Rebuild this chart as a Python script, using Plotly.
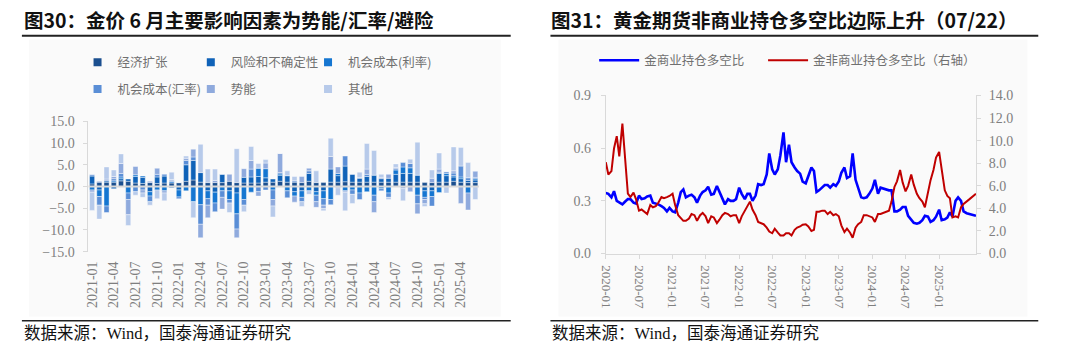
import plotly.graph_objects as go
import pandas as pd

# ---------------- Left chart data (monthly contributions) ----------------
months = [f"{y}-{m:02d}" for y in range(2021, 2026) for m in range(1, 13)][:54]
tick_months = months[::3]

econ = [0.6,1.0,1.0,1.0,1.3,1.2,0.8,0.7,0.9,0.7, 0.8,0.8,0.9,1.2,1.5,1.0,0.9,0.9,0.9,1.2,
        0.9,0.8,0.8,0.8,1.0,1.0,1.2,1.0,1.0,0.9, 1.2,0.9,0.9,1.0,1.0,1.1,1.0,1.0,1.0,1.0,
        1.0,1.0,1.0,1.0,1.0,1.0,0.9,0.9,1.0,1.0, 1.2,1.0,0.9,0.9]
risk = [1.8,-0.8,0.3,-0.5,0.5,0.5,1.5,1.4,-1.2,1.5, 1.6,-0.3,-0.8,3.8,4.5,2.2,-1.0,-1.3,1.9,-1.0,
        -1.5,1.3,1.4,1.5,1.0,0.7,1.4,1.5,-1.2,-1.0, 1.8,-1.2,-1.0,3.0,1.5,3.6,1.8,0.9,1.3,1.6,
        0.8,0.9,1.8,2.0,2.0,1.6,-1.0,-1.0,2.0,1.5, 1.0,0.8,0.5,0.6]
rate = [-0.8,-1.5,-4.5,0.3,0.4,-1.5,0.4,0.3,-1.0,-0.8, -1.0,0.3,-1.6,-1.0,-3.5,-4.2,-1.8,-2.5,-1.0,-2.0,
        -4.8,-3.0,-1.3,1.9,2.1,-0.8,0.3,-1.0,-1.0,-1.5, -1.0,-0.8,-1.8,-3.0,0.5,-1.0,-0.8,-1.5,-1.2,-2.0,
        -0.5,-1.5,1.0,1.5,1.3,-2.0,-1.5,-1.3,-1.4,0.5, 0.3,0.4,-1.5,0.3]
fx = [0.3,-2.0,-1.5,0.5,0.8,-1.5,-1.2,-0.8,-1.3,0.6, 0.4,0.2,-0.4,1.0,0.8,-4.5,-1.5,-2.0,-1.5,-0.8,
      -3.5,-1.3,1.8,-1.2,-0.8,-2.2,0.3,-1.6,0.3,-1.0, 0.6,-1.5,-1.5,-1.2,-0.3,2.3,-1.0,-1.5,0.5,-1.5,
      -0.5,-1.0,0.3,1.0,1.0,-2.0,-0.5,-2.2,0.3,0.4, 0.6,2.5,0.6,0.3]
mom = [-0.5,0.2,0.4,0.5,2.3,-3.5,1.9,-0.7,0.3,1.4, -0.5,0.3,0.0,0.5,1.8,-3.1,-2.9,0.5,-2.7,1.6,
       -2.0,2.0,2.0,-1.0,1.3,-1.5,4.4,0.0,-1.4,1.4, 0.6,-1.3,-0.8,2.9,1.5,-0.3,0.1,0.2,1.2,-2.5,
       0.3,0.9,0.3,-0.5,-1.2,-2.3,-1.0,1.0,0.7,0.0, 0.5,-3.9,-3.9,1.4]
other = [-4.2,-3.2,2.8,1.5,2.2,-2.5,-0.8,-1.0,-0.8,-2.0, -1.8,1.7,0.0,0.5,-3.7,6.5,3.1,2.6,0.1,-2.2,
         7.8,-1.5,3.2,1.1,0.8,-2.5,0.0,1.1,1.0,-1.1, -0.8,2.7,-0.5,4.2,-1.7,-4.3,-2.1,1.2,5.9,5.7,
         0.7,-0.5,0.8,-2.8,1.0,7.6,-0.6,1.9,3.7,-1.5, 5.5,4.3,3.5,-3.0]

bar_names = ["经济扩张", "风险和不确定性", "机会成本(利率)", "机会成本(汇率)", "势能", "其他"]
bar_series = [econ, risk, rate, fx, mom, other]
bar_colors = ["#1B4F8F", "#0F62B8", "#1576D1", "#5A8ED6", "#8FAADD", "#B7CAEA"]

# ---------------- Right chart data (semi-monthly readings) ----------------
dates = list(pd.date_range("2020-01-01", "2025-06-15", freq="SMS").strftime("%Y-%m-%d")) + ["2025-07-22"]
comm_ratio = [
    .345,.34,.32,.355,.30,.29,.28,.295,.31,.31,
    .29,.285,.33,.31,.315,.325,.33,.29,.285,.28,
    .27,.26,.24,.26,.24,.235,.29,.35,.365,.32,
    .33,.335,.32,.29,.33,.35,.36,.38,.335,.34,
    .385,.35,.31,.28,.31,.30,.30,.31,.375,.34,
    .31,.34,.34,.30,.33,.395,.39,.395,.45,.57,
    .48,.45,.48,.56,.69,.52,.62,.52,.49,.47,
    .455,.41,.40,.44,.49,.47,.35,.36,.375,.39,
    .39,.375,.395,.385,.41,.46,.49,.43,.44,.57,
    .42,.38,.32,.315,.32,.34,.37,.42,.34,.375,
    .37,.365,.36,.36,.24,.24,.25,.265,.265,.215,
    .19,.175,.17,.175,.19,.215,.21,.18,.19,.21,
    .25,.19,.195,.205,.235,.21,.30,.32,.30,.24,
    .23,.225,
    .215]
noncomm_ratio = [
    8.1,7.0,7.3,9.3,10.4,8.6,11.5,8.5,5.3,5.0,
    5.4,4.8,3.8,3.9,3.7,3.5,4.3,4.1,4.2,4.5,
    5.0,4.9,5.0,5.1,5.3,4.3,3.4,3.1,2.9,2.9,
    3.1,3.5,3.4,2.9,3.4,3.6,3.3,2.7,3.3,3.2,
    2.7,3.0,3.4,3.6,3.5,3.3,3.4,3.4,2.7,3.3,
    3.8,4.2,4.6,3.9,3.4,2.8,2.7,2.6,2.3,1.95,
    1.8,2.2,1.85,1.6,1.6,1.8,1.8,1.6,2.1,2.3,
    2.4,2.55,2.6,2.4,2.0,2.1,3.7,3.7,3.8,3.8,
    3.5,3.7,3.4,3.5,3.3,2.5,1.9,2.2,1.85,1.4,
    2.3,2.6,2.8,3.4,3.4,3.3,3.2,2.8,3.5,3.5,
    3.6,3.7,3.8,4.6,5.9,6.4,7.4,6.3,5.5,6.0,
    7.0,6.1,5.3,4.9,4.6,4.1,5.5,6.5,7.4,8.5,
    9.0,7.5,5.6,5.1,4.9,3.2,3.3,3.2,4.1,4.4,
    4.6,4.8,
    5.3]
right_ticks = ["2020-01-01","2020-07-01","2021-01-01","2021-07-01","2022-01-01","2022-07-01",
               "2023-01-01","2023-07-01","2024-01-01","2024-07-01","2025-01-01"]

W, H = 1080, 360
def px(x): return x / W
def py(y): return 1 - y / H

SERIF = "Liberation Serif, Times New Roman, serif"
CJK = "Noto Sans CJK SC"
TICK = dict(family=SERIF, size=14, color="#7F7F7F")
AXC = "#D9D9D9"

fig = go.Figure()

bar_leg_pos = [(71, 58), (185, 58), (303, 58), (71, 86), (185, 86), (303, 86)]

for i, (name, vals, col) in enumerate(zip(bar_names, bar_series, bar_colors)):
    fig.add_trace(go.Bar(x=months, y=vals, name=name, marker=dict(color=col, line=dict(color="white", width=0.4)),
                         xaxis="x", yaxis="y", showlegend=False))
    fig.add_trace(go.Scatter(x=[None], y=[None], mode="markers", name=name,
                             marker=dict(symbol="square", size=8, color=col),
                             xaxis="x", yaxis="y", legend=f"legend{i+1}" if i else "legend"))

fig.add_trace(go.Scatter(x=dates, y=comm_ratio, mode="lines", name="金商业持仓多空比",
                         line=dict(color="#0000FF", width=2.6), xaxis="x2", yaxis="y2", legend="legend7"))
fig.add_trace(go.Scatter(x=dates, y=noncomm_ratio, mode="lines", name="金非商业持仓多空比（右轴）",
                         line=dict(color="#C00000", width=2), xaxis="x2", yaxis="y3", legend="legend8"))

legend_common = dict(orientation="h", bgcolor="rgba(0,0,0,0)", borderwidth=0,
                     font=dict(family=CJK, size=12.5, color="#707070"),
                     xanchor="left", yanchor="middle")

legends = {}
for i, (lx, ly) in enumerate(bar_leg_pos):
    key = "legend" if i == 0 else f"legend{i+1}"
    legends[key] = dict(**legend_common, x=px(lx), y=py(ly), itemwidth=30)
legends["legend7"] = dict(**legend_common, x=px(591), y=py(56), itemwidth=40)
legends["legend8"] = dict(**legend_common, x=px(761), y=py(56), itemwidth=40)

fig.update_layout(
    width=W, height=H, margin=dict(l=0, r=0, t=0, b=0),
    paper_bgcolor="white", plot_bgcolor="rgba(0,0,0,0)",
    barmode="relative", bargap=0.3,
    **legends,
    xaxis=dict(domain=[px(82), px(475)], anchor="y", type="category", tickmode="array",
               tickvals=tick_months, ticktext=tick_months, tickangle=-90,
               tickfont=dict(family=SERIF, size=14, color="#7F7F7F"),
               showline=False, showgrid=False, zeroline=False, ticks="", ticklabelstandoff=6),
    yaxis=dict(domain=[py(255.3), py(119.3)], anchor="x", range=[-15, 15], dtick=5, tickformat=".1f",
               showgrid=False, zeroline=False, showline=True, linecolor=AXC, linewidth=1,
               ticks="outside", ticklen=4, tickcolor=AXC, tickfont=TICK, ticklabelstandoff=6),
    xaxis2=dict(domain=[px(602.7), px(975.3)], anchor="y2", type="date", range=["2020-01-01", "2025-07-22"],
                tickmode="array", tickvals=right_ticks, tickformat="%Y-%m", tickangle=90,
                tickfont=dict(family=SERIF, size=13, color="#7F7F7F"), showgrid=False, zeroline=False,
                showline=True, linecolor=AXC, linewidth=1, ticks="outside", ticklen=4, tickcolor=AXC,
                ticklabelstandoff=4),
    yaxis2=dict(domain=[py(257.3), py(92.3)], anchor="x2", range=[0, 0.9], dtick=0.3, tickformat=".1f",
                showgrid=False, zeroline=False, showline=True, linecolor=AXC, linewidth=1,
                ticks="outside", ticklen=4, tickcolor=AXC, tickfont=TICK, ticklabelstandoff=7),
    yaxis3=dict(overlaying="y2", anchor="x2", side="right", range=[0, 14], dtick=2, tickformat=".1f",
                showgrid=False, zeroline=False, showline=True, linecolor=AXC, linewidth=1,
                ticks="outside", ticklen=4, tickcolor=AXC, tickfont=TICK, ticklabelstandoff=5),
)

shapes = [
    dict(type="rect", xref="paper", yref="paper", x0=px(22), x1=px(497), y0=py(323), y1=py(34),
         fillcolor="#FAFAFA", line=dict(width=0), layer="below"),
    dict(type="rect", xref="paper", yref="paper", x0=px(555), x1=px(1027), y0=py(323), y1=py(34),
         fillcolor="#FAFAFA", line=dict(width=0), layer="below"),
    dict(type="line", xref="paper", yref="paper", x0=px(15), x1=px(507), y0=py(30), y1=py(30),
         line=dict(color="#222222", width=2)),
    dict(type="line", xref="paper", yref="paper", x0=px(547), x1=px(1038), y0=py(30), y1=py(30),
         line=dict(color="#222222", width=2)),
    dict(type="line", xref="paper", yref="paper", x0=px(15), x1=px(507), y0=py(327.5), y1=py(327.5),
         line=dict(color="#222222", width=1.5)),
    dict(type="line", xref="paper", yref="paper", x0=px(547), x1=px(1038), y0=py(327.5), y1=py(327.5),
         line=dict(color="#222222", width=1.5)),
    dict(type="line", xref="x domain", yref="y", x0=0, x1=1, y0=0, y1=0,
         line=dict(color="#D9D9D9", width=2), layer="above"),
]
fig.update_layout(shapes=shapes)

src = "数据来源：<span style='font-family:Liberation Serif'>Wind</span>，国泰海通证券研究"
annotations = [
    dict(text="<b>图30：金价 6 月主要影响因素为势能/汇率/避险</b>", x=px(15), y=py(13), xref="paper", yref="paper",
         xanchor="left", yanchor="middle", showarrow=False, font=dict(family=CJK, size=19.5, color="#111111")),
    dict(text="<b>图31：黄金期货非商业持仓多空比边际上升（07/22）</b>", x=px(546), y=py(13), xref="paper", yref="paper",
         xanchor="left", yanchor="middle", showarrow=False, font=dict(family=CJK, size=19.5, color="#111111")),
    dict(text=src, x=px(15), y=py(339), xref="paper", yref="paper",
         xanchor="left", yanchor="middle", showarrow=False, font=dict(family=CJK, size=16.5, color="#111111")),
    dict(text=src, x=px(547), y=py(339), xref="paper", yref="paper",
         xanchor="left", yanchor="middle", showarrow=False, font=dict(family=CJK, size=16.5, color="#111111")),
]
fig.update_layout(annotations=annotations)

fig.write_html("out.html", config={"displayModeBar": False},
               post_script="document.body.style.margin='0px';document.body.style.padding='0px';")
